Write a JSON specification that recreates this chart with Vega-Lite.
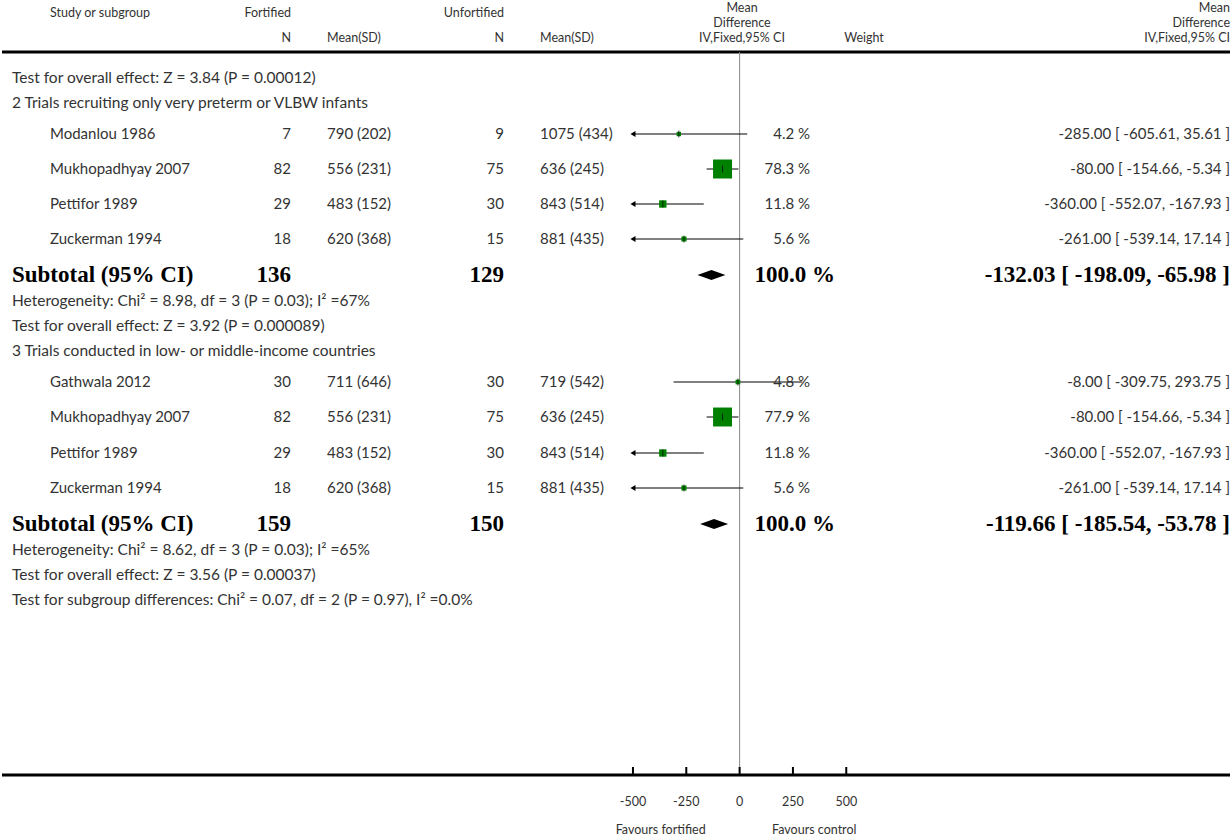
{
  "$schema": "https://vega.github.io/schema/vega-lite/v6.json",
  "autosize": {"type": "fit", "contains": "padding"},
  "width": 1232,
  "height": 840,
  "padding": 0,
  "background": "white",
  "config": {"view": {"stroke": null}, "text": {"font": "Lato", "fontSize": 15, "color": "#333"}},
  "datasets": {
    "studies": [
      {"y": 134, "name": "Modanlou 1986", "n1": "7", "m1": "790 (202)", "n2": "9", "m2": "1075 (434)", "md": -285, "lo": -605.61, "lo_shown": -500, "hi": 35.61, "clipped": true, "w": 4.2, "weight": "4.2 %", "ci": "-285.00 [ -605.61, 35.61 ]"},
      {"y": 169, "name": "Mukhopadhyay 2007", "n1": "82", "m1": "556 (231)", "n2": "75", "m2": "636 (245)", "md": -80, "lo": -154.66, "lo_shown": -154.66, "hi": -5.34, "clipped": false, "w": 78.3, "weight": "78.3 %", "ci": "-80.00 [ -154.66, -5.34 ]"},
      {"y": 204, "name": "Pettifor 1989", "n1": "29", "m1": "483 (152)", "n2": "30", "m2": "843 (514)", "md": -360, "lo": -552.07, "lo_shown": -500, "hi": -167.93, "clipped": true, "w": 11.8, "weight": "11.8 %", "ci": "-360.00 [ -552.07, -167.93 ]"},
      {"y": 239, "name": "Zuckerman 1994", "n1": "18", "m1": "620 (368)", "n2": "15", "m2": "881 (435)", "md": -261, "lo": -539.14, "lo_shown": -500, "hi": 17.14, "clipped": true, "w": 5.6, "weight": "5.6 %", "ci": "-261.00 [ -539.14, 17.14 ]"},
      {"y": 382, "name": "Gathwala 2012", "n1": "30", "m1": "711 (646)", "n2": "30", "m2": "719 (542)", "md": -8, "lo": -309.75, "lo_shown": -309.75, "hi": 293.75, "clipped": false, "w": 4.8, "weight": "4.8 %", "ci": "-8.00 [ -309.75, 293.75 ]"},
      {"y": 417, "name": "Mukhopadhyay 2007", "n1": "82", "m1": "556 (231)", "n2": "75", "m2": "636 (245)", "md": -80, "lo": -154.66, "lo_shown": -154.66, "hi": -5.34, "clipped": false, "w": 77.9, "weight": "77.9 %", "ci": "-80.00 [ -154.66, -5.34 ]"},
      {"y": 453, "name": "Pettifor 1989", "n1": "29", "m1": "483 (152)", "n2": "30", "m2": "843 (514)", "md": -360, "lo": -552.07, "lo_shown": -500, "hi": -167.93, "clipped": true, "w": 11.8, "weight": "11.8 %", "ci": "-360.00 [ -552.07, -167.93 ]"},
      {"y": 488, "name": "Zuckerman 1994", "n1": "18", "m1": "620 (368)", "n2": "15", "m2": "881 (435)", "md": -261, "lo": -539.14, "lo_shown": -500, "hi": 17.14, "clipped": true, "w": 5.6, "weight": "5.6 %", "ci": "-261.00 [ -539.14, 17.14 ]"}
    ],
    "subtotals": [
      {"y": 275, "n1": "136", "n2": "129", "md": -132.03, "weight": "100.0 %", "ci": "-132.03 [ -198.09, -65.98 ]"},
      {"y": 524, "n1": "159", "n2": "150", "md": -119.66, "weight": "100.0 %", "ci": "-119.66 [ -185.54, -53.78 ]"}
    ],
    "notes": [
      {"y": 78, "label": "Test for overall effect: Z = 3.84 (P = 0.00012)"},
      {"y": 103, "label": "2 Trials recruiting only very preterm or VLBW infants"},
      {"y": 301, "label": "Heterogeneity: Chi² = 8.98, df = 3 (P = 0.03); I² =67%"},
      {"y": 326, "label": "Test for overall effect: Z = 3.92 (P = 0.000089)"},
      {"y": 351, "label": "3 Trials conducted in low- or middle-income countries"},
      {"y": 550, "label": "Heterogeneity: Chi² = 8.62, df = 3 (P = 0.03); I² =65%"},
      {"y": 575, "label": "Test for overall effect: Z = 3.56 (P = 0.00037)"},
      {"y": 600, "label": "Test for subgroup differences: Chi² = 0.07, df = 2 (P = 0.97), I² =0.0%"}
    ],
    "ticks": [{"v": -500}, {"v": -250}, {"v": 0}, {"v": 250}, {"v": 500}],
    "headers": [
      {"y": 13, "t": "Study or subgroup", "col": "a"},
      {"y": 13, "t": "Fortified", "col": "n1"},
      {"y": 13, "t": "Unfortified", "col": "n2"},
      {"y": 38, "t": "N", "col": "n1"},
      {"y": 38, "t": "Mean(SD)", "col": "m1"},
      {"y": 38, "t": "N", "col": "n2"},
      {"y": 38, "t": "Mean(SD)", "col": "m2"},
      {"y": 38, "t": "Weight", "col": "w"},
      {"y": 8, "t": "Mean", "col": "md"},
      {"y": 23, "t": "Difference", "col": "md"},
      {"y": 38, "t": "IV,Fixed,95% CI", "col": "md"},
      {"y": 8, "t": "Mean", "col": "ci"},
      {"y": 23, "t": "Difference", "col": "ci"},
      {"y": 38, "t": "IV,Fixed,95% CI", "col": "ci"}
    ]
  },
  "encoding": {
    "y": {"field": "y", "type": "quantitative", "scale": {"domain": [0, 840], "reverse": true, "nice": false, "zero": false}, "axis": null}
  },
  "layer": [
    {"data": {"values": [{"y": 52}, {"y": 775}]}, "mark": {"type": "rule", "strokeWidth": 3, "color": "black"}, "encoding": {}},
    {"data": {"values": [{"y": 52, "y2": 775}]}, "mark": {"type": "rule", "color": "#888", "strokeWidth": 1},
      "encoding": {"x": {"datum": 0, "type": "quantitative", "scale": {"domain": [-3458, 2299], "nice": false, "zero": false}, "axis": null}, "y2": {"field": "y2"}}},
    {"data": {"name": "ticks"}, "transform": [{"calculate": "767", "as": "y"}, {"calculate": "775", "as": "y2"}], "mark": {"type": "rule", "strokeWidth": 2, "color": "black"},
      "encoding": {"x": {"field": "v", "type": "quantitative"}, "y2": {"field": "y2"}}},
    {"data": {"name": "ticks"}, "transform": [{"calculate": "802", "as": "y"}], "mark": {"type": "text", "fontSize": 12.5},
      "encoding": {"x": {"field": "v", "type": "quantitative"}, "text": {"field": "v"}}},
    {"data": {"values": [{"v": -370, "y": 830, "t": "Favours fortified"}, {"v": 350, "y": 830, "t": "Favours control"}]}, "mark": {"type": "text", "fontSize": 12.5},
      "encoding": {"x": {"field": "v", "type": "quantitative"}, "text": {"field": "t"}}},
    {"data": {"name": "studies"}, "mark": {"type": "rule", "color": "black", "strokeWidth": 1},
      "encoding": {"x": {"field": "lo_shown", "type": "quantitative"}, "x2": {"field": "hi"}}},
    {"data": {"name": "studies"}, "transform": [{"filter": "datum.clipped"}], "mark": {"type": "point", "shape": "triangle-left", "filled": true, "size": 34, "color": "black", "opacity": 1},
      "encoding": {"x": {"field": "lo_shown", "type": "quantitative"}}},
    {"data": {"name": "studies"}, "mark": {"type": "square", "color": "#008000", "opacity": 1},
      "encoding": {"x": {"field": "md", "type": "quantitative"}, "size": {"field": "w", "type": "quantitative", "scale": {"domain": [0, 78.3], "range": [0, 361]}, "legend": null}}},
    {"data": {"name": "studies"}, "mark": {"type": "tick", "color": "black", "size": 7, "thickness": 1, "orient": "vertical"},
      "encoding": {"x": {"field": "md", "type": "quantitative"}}},
    {"data": {"name": "subtotals"}, "mark": {"type": "point", "shape": "M-1,0L0,-0.36L1,0L0,0.36Z", "filled": true, "color": "black", "opacity": 1, "size": 784},
      "encoding": {"x": {"field": "md", "type": "quantitative"}}},
    {"data": {"name": "notes"}, "mark": {"type": "text", "align": "left", "x": 10, "fontSize": 15.5}, "encoding": {"text": {"field": "label"}}},
    {"data": {"name": "studies"}, "mark": {"type": "text", "align": "left", "x": 48}, "encoding": {"text": {"field": "name"}}},
    {"data": {"name": "studies"}, "mark": {"type": "text", "align": "right", "x": 289}, "encoding": {"text": {"field": "n1"}}},
    {"data": {"name": "studies"}, "mark": {"type": "text", "align": "left", "x": 325}, "encoding": {"text": {"field": "m1"}}},
    {"data": {"name": "studies"}, "mark": {"type": "text", "align": "right", "x": 502}, "encoding": {"text": {"field": "n2"}}},
    {"data": {"name": "studies"}, "mark": {"type": "text", "align": "left", "x": 538}, "encoding": {"text": {"field": "m2"}}},
    {"data": {"name": "studies"}, "mark": {"type": "text", "align": "right", "x": 808}, "encoding": {"text": {"field": "weight"}}},
    {"data": {"name": "studies"}, "mark": {"type": "text", "align": "right", "x": 1228}, "encoding": {"text": {"field": "ci"}}},
    {"data": {"name": "subtotals"}, "transform": [{"calculate": "'Subtotal (95% CI)'", "as": "t"}], "mark": {"type": "text", "align": "left", "x": 10, "font": "Liberation Serif", "fontWeight": "bold", "fontSize": 23, "color": "black"}, "encoding": {"text": {"field": "t"}}},
    {"data": {"name": "subtotals"}, "mark": {"type": "text", "align": "right", "x": 289, "font": "Liberation Serif", "fontWeight": "bold", "fontSize": 23, "color": "black"}, "encoding": {"text": {"field": "n1"}}},
    {"data": {"name": "subtotals"}, "mark": {"type": "text", "align": "right", "x": 502, "font": "Liberation Serif", "fontWeight": "bold", "fontSize": 23, "color": "black"}, "encoding": {"text": {"field": "n2"}}},
    {"data": {"name": "subtotals"}, "mark": {"type": "text", "align": "right", "x": 833, "font": "Liberation Serif", "fontWeight": "bold", "fontSize": 23, "color": "black"}, "encoding": {"text": {"field": "weight"}}},
    {"data": {"name": "subtotals"}, "mark": {"type": "text", "align": "right", "x": 1228, "font": "Liberation Serif", "fontWeight": "bold", "fontSize": 23, "color": "black", "letterSpacing": 1}, "encoding": {"text": {"field": "ci"}}},
    {"data": {"name": "headers"}, "transform": [{"filter": "datum.col == 'a'"}], "mark": {"type": "text", "align": "left", "x": 48, "fontSize": 12.5}, "encoding": {"text": {"field": "t"}}},
    {"data": {"name": "headers"}, "transform": [{"filter": "datum.col == 'n1'"}], "mark": {"type": "text", "align": "right", "x": 289, "fontSize": 12.5}, "encoding": {"text": {"field": "t"}}},
    {"data": {"name": "headers"}, "transform": [{"filter": "datum.col == 'm1'"}], "mark": {"type": "text", "align": "left", "x": 325, "fontSize": 12.5}, "encoding": {"text": {"field": "t"}}},
    {"data": {"name": "headers"}, "transform": [{"filter": "datum.col == 'n2'"}], "mark": {"type": "text", "align": "right", "x": 502, "fontSize": 12.5}, "encoding": {"text": {"field": "t"}}},
    {"data": {"name": "headers"}, "transform": [{"filter": "datum.col == 'm2'"}], "mark": {"type": "text", "align": "left", "x": 538, "fontSize": 12.5}, "encoding": {"text": {"field": "t"}}},
    {"data": {"name": "headers"}, "transform": [{"filter": "datum.col == 'w'"}], "mark": {"type": "text", "align": "center", "x": 862, "fontSize": 12.5}, "encoding": {"text": {"field": "t"}}},
    {"data": {"name": "headers"}, "transform": [{"filter": "datum.col == 'md'"}], "mark": {"type": "text", "align": "center", "x": 740, "fontSize": 12.5}, "encoding": {"text": {"field": "t"}}},
    {"data": {"name": "headers"}, "transform": [{"filter": "datum.col == 'ci'"}], "mark": {"type": "text", "align": "right", "x": 1228, "fontSize": 12.5}, "encoding": {"text": {"field": "t"}}}
  ]
}
